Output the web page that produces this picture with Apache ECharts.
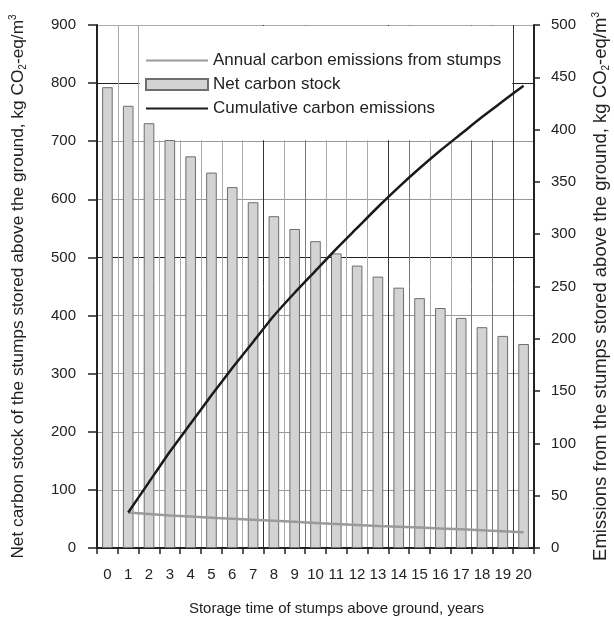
<!DOCTYPE html>
<html>
<head>
<meta charset="utf-8">
<script src="https://cdn.jsdelivr.net/npm/echarts@6/dist/echarts.min.js"></script>
<style>
html,body{margin:0;padding:0;background:#fff;}
#chart{width:614px;height:628px;}
</style>
</head>
<body>
<div id="chart"></div>
<script>
var years = ['0','1','2','3','4','5','6','7','8','9','10','11','12','13','14','15','16','17','18','19','20'];
var netCarbonStock = [793, 761, 731, 702, 674, 646, 621, 595, 571, 549, 528, 507, 486, 467, 448, 430, 413, 396, 380, 365, 351];
var annualEmissions = [null, 34, 32.5, 31, 30, 29, 28, 27, 26, 25, 24, 23, 22, 21, 20.3, 19.5, 18.7, 18, 17, 16, 15];
var cumulativeEmissions = [null, 34, 63, 92, 119, 146, 172, 197, 222, 244, 265, 286, 306, 326, 345, 363, 380, 396, 412, 427, 442];
var leftTicks = {min: 0, max: 900, interval: 100};
var rightTicks = {min: 0, max: 500, interval: 50};

var FONT = 'Liberation Sans, Arial, sans-serif';
var hColors = ['#999','#999','#999','#999','#999','#222','#999','#999','#222','#aaa'];
var vColors = [];
for (var i = 0; i <= 21; i++) {
  var c = '#aaa';
  if (i === 8 || i === 14 || i === 20) c = '#333';
  else if (i === 10 || i === 15 || i === 18 || i === 19) c = '#777';
  vColors.push(c);
}

var chart = echarts.init(document.getElementById('chart'), null, {renderer: 'canvas'});
var option = {
  animation: false,
  backgroundColor: '#fff',
  textStyle: {fontFamily: FONT},
  grid: {left: 97, right: 80, top: 25, bottom: 80, containLabel: false, outerBoundsMode: 'none'},
  legend: {
    orient: 'vertical',
    left: 145,
    top: 52,
    padding: 0,
    itemWidth: 62,
    itemHeight: 11,
    itemGap: 7,
    textStyle: {fontSize: 17, color: '#222', fontFamily: FONT},
    data: [
      {name: 'Annual carbon emissions from stumps', itemStyle: {opacity: 0}},
      {name: 'Net carbon stock', icon: 'rect'},
      {name: 'Cumulative carbon emissions', itemStyle: {opacity: 0}}
    ]
  },
  xAxis: {
    type: 'category',
    data: years,
    boundaryGap: true,
    name: 'Storage time of stumps above ground, years',
    nameLocation: 'middle',
    nameGap: 53,
    nameTextStyle: {fontSize: 15, color: '#222', padding: [0, 0, 0, 42]},
    axisLine: {lineStyle: {color: '#222', width: 2}},
    axisTick: {show: true, inside: false, length: 6, lineStyle: {color: '#222', width: 1.5}, interval: 0},
    axisLabel: {fontSize: 15, color: '#222', margin: 19, interval: 0},
    splitLine: {show: true, interval: 0, lineStyle: {color: vColors, width: 1}}
  },
  yAxis: [
    {
      type: 'value',
      position: 'left',
      min: leftTicks.min, max: leftTicks.max, interval: leftTicks.interval,
      name: 'Net carbon stock of the stumps stored above the ground, kg CO{sub|2}-eq/m{sup|3}',
      nameLocation: 'middle',
      nameGap: 69,
      nameTextStyle: {
        fontSize: 17.3, color: '#222', lineHeight: 20,
        rich: {
          sub: {fontSize: 10, color: '#222', verticalAlign: 'bottom', lineHeight: 20},
          sup: {fontSize: 10, color: '#222', verticalAlign: 'top', lineHeight: 20}
        }
      },
      axisLine: {show: true, lineStyle: {color: '#222', width: 2}},
      axisTick: {show: true, inside: false, length: 9, lineStyle: {color: '#222', width: 1.5}},
      axisLabel: {fontSize: 15, color: '#222', margin: 21},
      splitLine: {show: true, lineStyle: {color: hColors, width: 1}}
    },
    {
      type: 'value',
      position: 'right',
      min: rightTicks.min, max: rightTicks.max, interval: rightTicks.interval,
      name: 'Emissions from the stumps stored above the ground, kg CO{sub|2}-eq/m{sup|3}',
      nameLocation: 'middle',
      nameGap: 57,
      nameRotate: 90,
      nameTextStyle: {
        fontSize: 18.5, color: '#222', lineHeight: 20,
        rich: {
          sub: {fontSize: 10, color: '#222', verticalAlign: 'bottom', lineHeight: 20},
          sup: {fontSize: 10, color: '#222', verticalAlign: 'top', lineHeight: 20}
        }
      },
      axisLine: {show: true, lineStyle: {color: '#222', width: 2}},
      axisTick: {show: true, inside: false, length: 6, lineStyle: {color: '#222', width: 1.5}},
      axisLabel: {fontSize: 15, color: '#222', margin: 17},
      splitLine: {show: false}
    }
  ],
  series: [
    {
      name: 'Net carbon stock',
      type: 'bar',
      yAxisIndex: 0,
      data: netCarbonStock,
      barWidth: '51%',
      itemStyle: {color: '#d2d3d5', borderColor: '#6e6e6e', borderWidth: 1}
    },
    {
      name: 'Annual carbon emissions from stumps',
      type: 'line',
      yAxisIndex: 1,
      data: annualEmissions,
      symbol: 'none',
      connectNulls: false,
      color: '#9a9a9a',
      lineStyle: {color: '#9a9a9a', width: 2.5}
    },
    {
      name: 'Cumulative carbon emissions',
      type: 'line',
      yAxisIndex: 1,
      data: cumulativeEmissions,
      symbol: 'none',
      smooth: 0.2,
      color: '#1a1a1a',
      lineStyle: {color: '#1a1a1a', width: 2.5}
    }
  ]
};
chart.setOption(option);

// white legend backdrop hiding the grid lines (boundary of years 2..20, values 700..900)
var p1 = chart.convertToPixel({gridIndex: 0}, ['1', 900]);
var p2 = chart.convertToPixel({gridIndex: 0}, ['2', 700]);
var p20 = chart.convertToPixel({gridIndex: 0}, ['20', 900]);
var band = p2[0] - p1[0];
var x0 = p2[0] - band / 2 + 1;
var x1 = p20[0] - band / 2 - 1;
var y0 = p1[1] + 1;
var y1 = p2[1] - 1;
chart.setOption({
  graphic: [{
    type: 'rect',
    z: 1,
    silent: true,
    shape: {x: x0, y: y0, width: x1 - x0, height: y1 - y0},
    style: {fill: '#fff'}
  }]
});
</script>
</body>
</html>
